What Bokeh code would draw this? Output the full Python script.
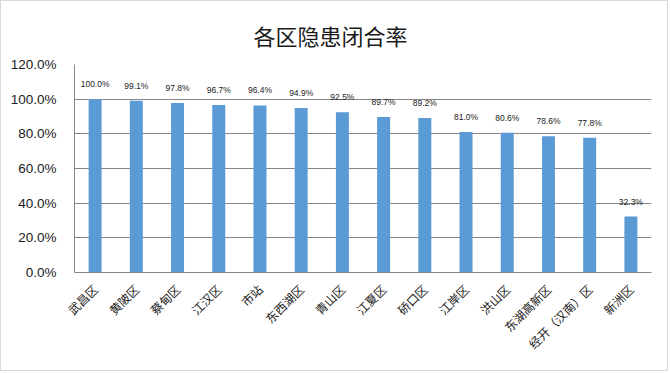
from bokeh.plotting import figure
from bokeh.models import ColumnDataSource, Range1d, FixedTicker, NumeralTickFormatter, LabelSet
from bokeh.core.properties import value
from bokeh.embed import file_html
from bokeh.resources import INLINE
import math

districts = ["武昌区", "黄陂区", "蔡甸区", "江汉区", "市站", "东西湖区", "青山区", "江夏区",
             "硚口区", "江岸区", "洪山区", "东湖高新区", "经开（汉南）区", "新洲区"]
closure_rate = [100.0, 99.1, 97.8, 96.7, 96.4, 94.9, 92.5, 89.7, 89.2, 81.0, 80.6, 78.6, 77.8, 32.3]
y_ticks = [0.0, 0.2, 0.4, 0.6, 0.8, 1.0, 1.2]
title_text = "各区隐患闭合率"

source = ColumnDataSource(data=dict(
    district=districts,
    rate=[v / 100.0 for v in closure_rate],
    label=["%.1f%%" % v for v in closure_rate],
))

p = figure(x_range=districts, y_range=Range1d(0, 1.2), width=668, height=371,
           output_backend="svg", toolbar_location=None, title=title_text,
           min_border_left=73, min_border_right=18, min_border_top=63, min_border_bottom=100)
p.x_range.range_padding = 0
p.outline_line_color = None
p.background_fill_color = "white"
p.border_fill_color = "white"
p.styles = {"border": "1px solid #d9d9d9"}

p.title.align = "left"
p.title.offset = 179
p.title.standoff = 27
p.title.text_font = "Noto Sans CJK SC"
p.title.text_font_size = "22px"
p.title.text_font_style = "normal"
p.title.text_color = "#1a1a1a"

p.vbar(x="district", top="rate", width=0.315, source=source,
       fill_color="#5B9BD5", line_color=None)

labels = LabelSet(x="district", y="rate", text="label", source=source,
                  text_align="center", text_baseline="middle", y_offset=15,
                  text_font=value("Liberation Sans"), text_font_size="8.5px",
                  text_color="#222222")
p.add_layout(labels)

p.yaxis.ticker = FixedTicker(ticks=y_ticks)
p.yaxis.formatter = NumeralTickFormatter(format="0.0%")
p.yaxis.major_label_text_font = "Liberation Sans"
p.yaxis.major_label_text_font_size = "13.5px"
p.yaxis.major_label_text_color = "#1a1a1a"
p.yaxis.axis_line_color = "#868686"
p.yaxis.major_tick_line_color = None
p.yaxis.minor_tick_line_color = None
p.yaxis.major_label_standoff = 12

p.ygrid.ticker = FixedTicker(ticks=y_ticks)
p.ygrid.grid_line_color = "#868686"
p.xgrid.grid_line_color = None

p.xaxis.axis_line_color = "#868686"
p.xaxis.major_tick_line_color = None
p.xaxis.minor_tick_line_color = None
p.xaxis.major_label_orientation = math.pi / 4
p.xaxis.major_label_text_font = "Noto Sans CJK SC"
p.xaxis.major_label_text_font_size = "12px"
p.xaxis.major_label_text_color = "#1a1a1a"
p.xaxis.major_label_standoff = 8

open("out.html", "w").write(file_html(p, INLINE))
